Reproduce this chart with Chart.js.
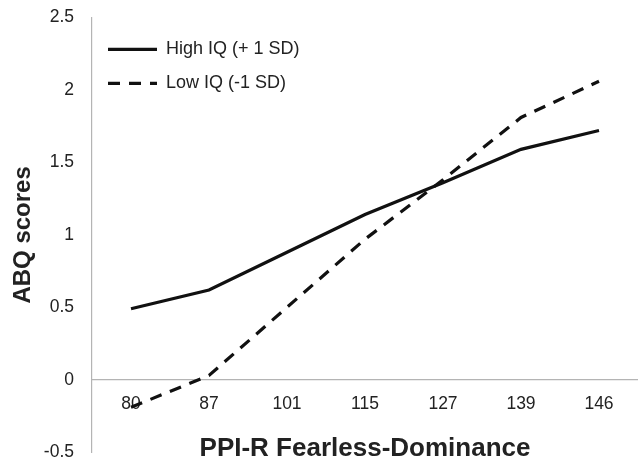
<!DOCTYPE html>
<html>
<head>
<meta charset="utf-8">
<script src="https://cdn.jsdelivr.net/npm/chart.js@4/dist/chart.umd.min.js"></script>
<style>
  body{margin:0;background:#fff;}
  #wrap{width:638px;height:461px;position:relative;}
</style>
</head>
<body>
<div id="wrap"><canvas id="c"></canvas></div>
<script>
const categories = ['80','87','101','115','127','139','146'];
const highIQ = [0.49, 0.62, 0.88, 1.14, 1.36, 1.59, 1.72];
const lowIQ = [-0.19, 0.03, 0.50, 0.97, 1.38, 1.81, 2.06];
const yTicks = {min:-0.5, max:2.5, step:0.5};

const font = "'Liberation Sans', Arial, Helvetica, sans-serif";

// keep the dash pattern of each line in its legend sample
function legendLabels(chart){
  const items = Chart.defaults.plugins.legend.labels.generateLabels(chart);
  items.forEach((it, i) => {
    const ds = chart.data.datasets[i];
    it.lineDash = ds.borderDash || [];
    it.lineWidth = ds.borderWidth;
    it.strokeStyle = ds.borderColor;
  });
  return items;
}

new Chart(document.getElementById('c'), {
  type: 'line',
  data: {
    labels: categories,
    datasets: [
      { label:'High IQ (+ 1 SD)', data: highIQ, borderColor:'#111', backgroundColor:'#111',
        borderWidth:3.2, pointRadius:0, tension:0 },
      { label:'Low IQ (-1 SD)', data: lowIQ, borderColor:'#111', backgroundColor:'#111',
        borderWidth:3.2, borderDash:[12,9], pointRadius:0, tension:0 }
    ]
  },
  options: {
    responsive: true,
    maintainAspectRatio: false,
    animation: false,
    layout: { padding: { top:17.5, bottom:8.5, left:0, right:-8 } },
    plugins: {
      tooltip: { enabled:false },
      legend: {
        position: 'chartArea',
        align: 'start',
        title: { display:true, text:'', padding:{ top:10, bottom:0 }, font:{ size:12 } },
        labels: {
          usePointStyle: true, pointStyle: 'line', pointStyleWidth: 49,
          generateLabels: legendLabels,
          padding: 16, color:'#222', font: { family: font, size: 18 }
        }
      }
    },
    scales: {
      x: {
        position: { y: 0 },
        offset: true,
        grid: { display:false, drawTicks:false },
        border: { display:true, color:'#b4b4b4', width:1.2 },
        ticks: { color:'#222', padding:14, maxRotation:0, font:{ family: font, size: 17.5 } },
        title: { display:true, text:'PPI-R Fearless-Dominance', color:'#222',
                 padding:{ top:4, bottom:0 }, font:{ family: font, size: 26, weight:'bold' } }
      },
      y: {
        min: yTicks.min, max: yTicks.max,
        afterFit: (s) => { s.width = 92; },
        grid: { display:false, drawTicks:true, tickLength:18 },
        border: { display:true, color:'#b4b4b4', width:1.2 },
        ticks: { stepSize: yTicks.step, color:'#222', padding:0,
                 font:{ family: font, size: 17.5, lineHeight: 1 },
                 callback: (v) => String(Math.round(v * 10) / 10) },
        title: { display:true, text:'ABQ scores', color:'#222',
                 padding:{ top:9, bottom:0 }, font:{ family: font, size: 24, weight:'bold' } }
      }
    }
  }
});
</script>
</body>
</html>
